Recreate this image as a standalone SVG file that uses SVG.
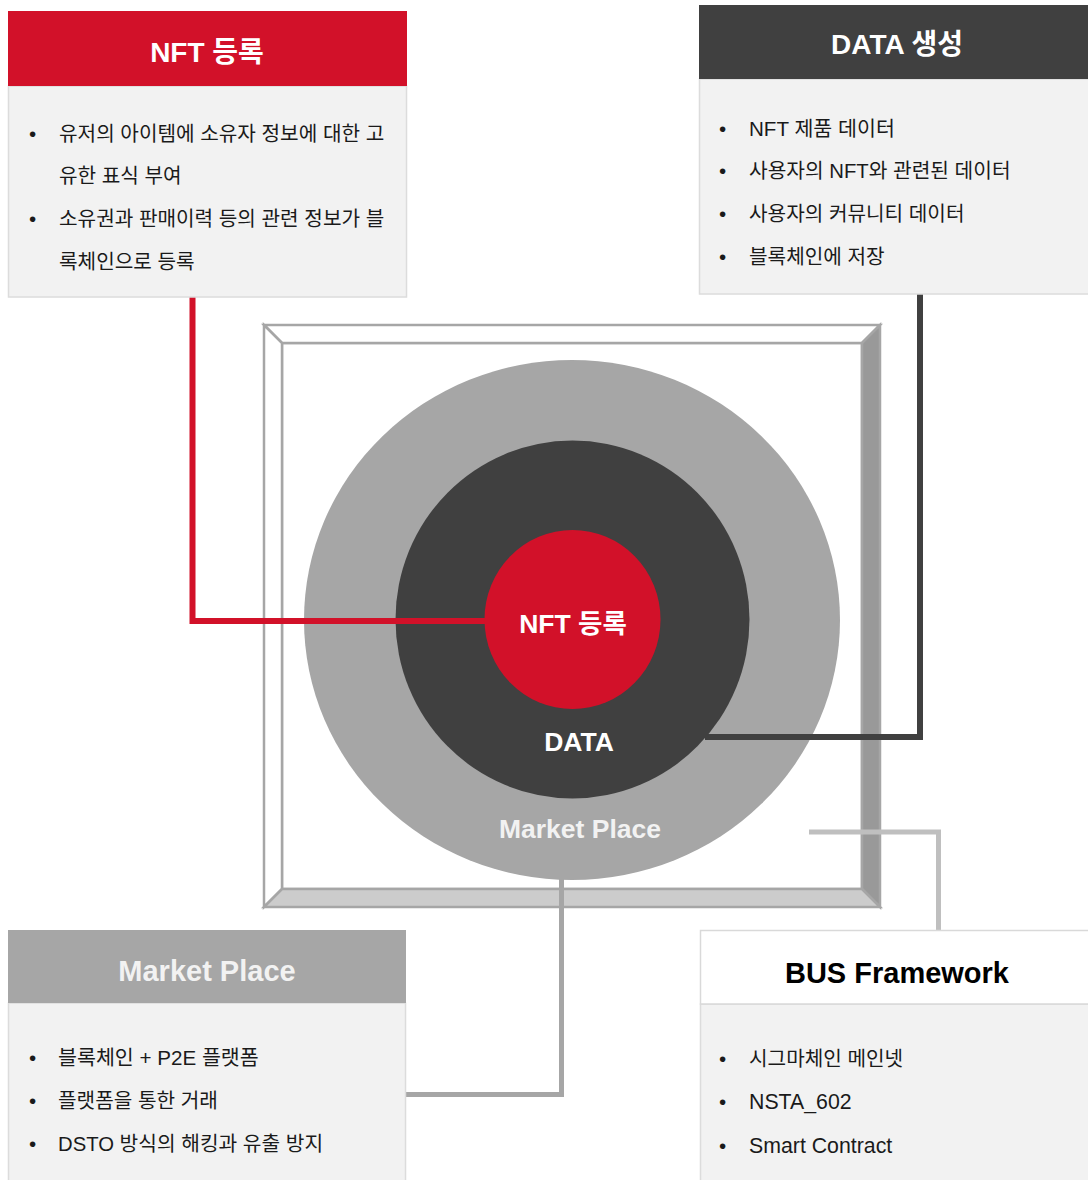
<svg xmlns="http://www.w3.org/2000/svg" width="1088" height="1180" viewBox="0 0 1088 1180">
<style>
text { font-family: "Liberation Sans", "Noto Sans CJK KR", sans-serif; }
.hd { font-size: 28px; font-weight: bold; fill: #ffffff; text-anchor: middle; }
.hd2 { font-size: 29px; font-weight: bold; text-anchor: middle; }
.bd { font-size: 20.6px; fill: #1a1a1a; }
.ko { font-size: 20.2px; }
.mx { font-size: 20.3px; }
.la { font-size: 21.3px; }
.body { fill: #f2f2f2; stroke: #dcdcdc; stroke-width: 1.5; }
.bev { stroke: #a6a6a6; stroke-width: 2.5; stroke-linejoin: miter; }
.ctr { font-size: 26.5px; font-weight: bold; fill: #ffffff; text-anchor: middle; }
.conn { fill: none; stroke-linejoin: miter; }
</style>
<rect width="1088" height="1180" fill="#ffffff"/>

<g id="frame">
  <rect x="282" y="343" width="580" height="546" fill="#ffffff" class="bev"/>
  <polygon class="bev" points="264,325 880,325 862,343 282,343" fill="#ffffff"/>
  <polygon class="bev" points="264,325 282,343 282,889 264,907" fill="#ffffff"/>
  <polygon class="bev" points="880,325 880,907 862,889 862,343" fill="#999999"/>
  <polygon class="bev" points="264,907 880,907 862,889 282,889" fill="#cccccc"/>
</g>

<g id="circle-market">
  <ellipse cx="572" cy="620" rx="268" ry="260" fill="#a6a6a6"/>
</g>
<g id="circle-data">
  <ellipse cx="572.5" cy="619.5" rx="177" ry="179" fill="#404040"/>
</g>

<g id="connectors">
  <path class="conn" d="M192.5,297 V621 H486" stroke="#d21129" stroke-width="6"/>
  <path class="conn" d="M920,294 V737 H705" stroke="#404040" stroke-width="6"/>
  <path class="conn" d="M561.5,878 V1094.5 H406" stroke="#a6a6a6" stroke-width="5"/>
  <path class="conn" d="M809,832 H938.5 V930" stroke="#bfbfbf" stroke-width="5"/>
</g>

<g id="circle-nft">
  <ellipse cx="572.5" cy="619.5" rx="88" ry="89.5" fill="#d21129"/>
  <text class="ctr" x="573" y="633">NFT 등록</text>
</g>
<g id="label-data">
  <text class="ctr" x="579" y="751">DATA</text>
</g>
<g id="label-market">
  <text class="ctr" x="580" y="838" style="fill:#f2f2f2">Market Place</text>
</g>

<g id="box-nft">
  <rect class="body" x="8.5" y="86" width="398" height="211"/>
  <rect x="8" y="11" width="399" height="75" fill="#d21129"/>
  <text class="hd" x="207" y="62">NFT 등록</text>
  <text class="bd" x="29" y="141">•</text>
  <text class="bd ko" x="59" y="141">유저의 아이템에 소유자 정보에 대한 고</text>
  <text class="bd ko" x="59" y="183">유한 표식 부여</text>
  <text class="bd" x="29" y="226">•</text>
  <text class="bd ko" x="59" y="226">소유권과 판매이력 등의 관련 정보가 블</text>
  <text class="bd ko" x="59" y="269">록체인으로 등록</text>
</g>

<g id="box-data">
  <rect class="body" x="699.5" y="79" width="392" height="215"/>
  <rect x="699" y="5" width="392" height="74" fill="#404040"/>
  <text class="hd" x="897" y="54">DATA 생성</text>
  <text class="bd" x="719" y="136">•</text>
  <text class="bd" x="749" y="136">NFT 제품 데이터</text>
  <text class="bd" x="719" y="178">•</text>
  <text class="bd mx" x="749" y="178">사용자의 NFT와 관련된 데이터</text>
  <text class="bd" x="719" y="221">•</text>
  <text class="bd ko" x="749" y="221">사용자의 커뮤니티 데이터</text>
  <text class="bd" x="719" y="264">•</text>
  <text class="bd ko" x="749" y="264">블록체인에 저장</text>
</g>

<g id="box-market">
  <rect class="body" x="8.5" y="1003" width="397" height="190"/>
  <rect x="8" y="930" width="398" height="73" fill="#a6a6a6"/>
  <text class="hd2" x="207" y="981" fill="#f2f2f2">Market Place</text>
  <text class="bd" x="29" y="1065">•</text>
  <text class="bd" x="58" y="1065">블록체인 + P2E 플랫폼</text>
  <text class="bd" x="29" y="1108">•</text>
  <text class="bd ko" x="58" y="1108">플랫폼을 통한 거래</text>
  <text class="bd" x="29" y="1151">•</text>
  <text class="bd mx" x="58" y="1151">DSTO 방식의 해킹과 유출 방지</text>
</g>

<g id="box-bus">
  <rect class="body" x="700.5" y="1004" width="392" height="190"/>
  <rect x="700.5" y="930.5" width="392" height="73.5" fill="#ffffff" stroke="#d9d9d9" stroke-width="1.5"/>
  <text class="hd2" x="897" y="983" fill="#000000">BUS Framework</text>
  <text class="bd" x="719" y="1066">•</text>
  <text class="bd ko" x="749" y="1066">시그마체인 메인넷</text>
  <text class="bd" x="719" y="1109">•</text>
  <text class="bd la" x="749" y="1109">NSTA_602</text>
  <text class="bd" x="719" y="1153">•</text>
  <text class="bd la" x="749" y="1153">Smart Contract</text>
</g>
</svg>
